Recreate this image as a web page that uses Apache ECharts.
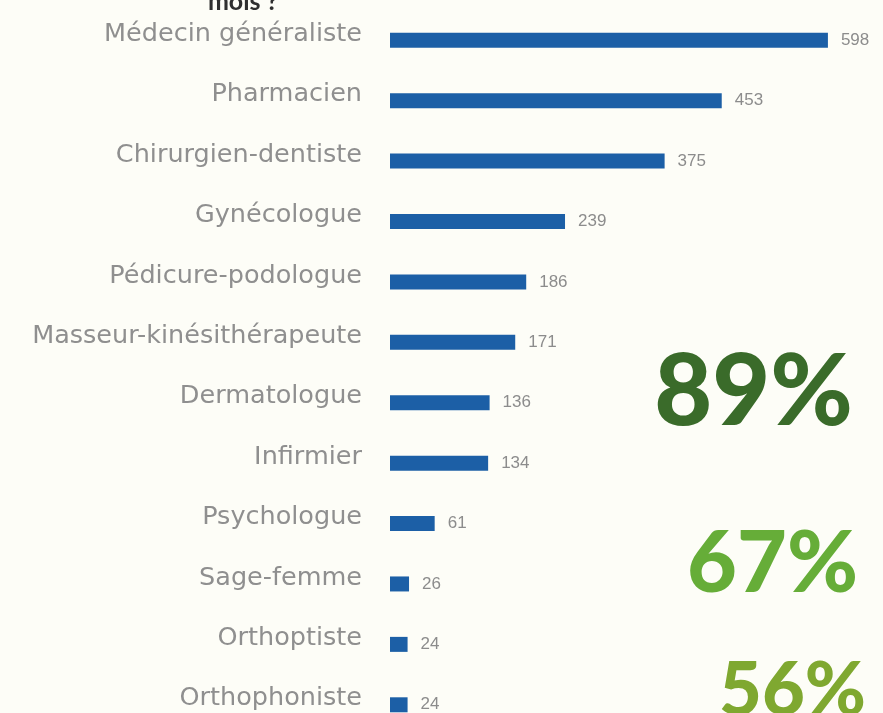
<!DOCTYPE html>
<html>
<head>
<meta charset="utf-8">
<script src="https://cdn.jsdelivr.net/npm/echarts@6/dist/echarts.min.js"></script>
<style>
html,body{margin:0;padding:0;background:#fdfdf7;overflow:hidden;}
#chart{width:883px;height:736px;}
</style>
</head>
<body>
<div id="chart"></div>
<script>
const categories = ['Médecin généraliste','Pharmacien','Chirurgien-dentiste','Gynécologue','Pédicure-podologue','Masseur-kinésithérapeute','Dermatologue','Infirmier','Psychologue','Sage-femme','Orthoptiste','Orthophoniste'];
const values = [598, 453, 375, 239, 186, 171, 136, 134, 61, 26, 24, 24];
const highlights = ['89%', '67%', '56%'];
const titleText = 'mois ?';

const chart = echarts.init(document.getElementById('chart'));
chart.setOption({
  backgroundColor: '#fdfdf7',
  animation: false,
  grid: { left: 390, right: 17, top: 10, bottom: 1, containLabel: false },
  xAxis: {
    type: 'value', min: 0, max: 650, show: false
  },
  yAxis: {
    type: 'category', data: categories, inverse: true,
    axisLine: { show: false }, axisTick: { show: false }, splitLine: { show: false },
    axisLabel: {
      margin: 28, color: '#8f8f8f', fontSize: 25.5, lineHeight: 12,
      fontFamily: 'DejaVu Sans', align: 'right', verticalAlign: 'bottom'
    }
  },
  series: [{
    type: 'bar', data: values, barWidth: 15,
    itemStyle: { color: '#1c5fa6' },
    label: {
      show: true, position: 'right', distance: 13,
      color: '#8c8c8c', fontSize: 17, fontFamily: 'Liberation Sans', padding: [3,0,0,0]
    }
  }],
  graphic: [
    { type: 'text', style: { text: titleText, x: 243, y: 2, textAlign: 'center', textVerticalAlign: 'middle', font: 'bold 25px Lato', fill: '#2f2f2f' } },
    { type: 'text', style: { text: highlights[0], x: 853, y: 393, textAlign: 'right', textVerticalAlign: 'middle', font: '900 100px Lato', fill: '#3a6b2a' } },
    { type: 'text', style: { text: highlights[1], x: 858, y: 564, textAlign: 'right', textVerticalAlign: 'middle', font: '900 86px Lato', fill: '#66ad38' } },
    { type: 'text', style: { text: highlights[2], x: 866, y: 691, textAlign: 'right', textVerticalAlign: 'middle', font: '900 74px Lato', fill: '#7fa830' } }
  ]
});
</script>
</body>
</html>
